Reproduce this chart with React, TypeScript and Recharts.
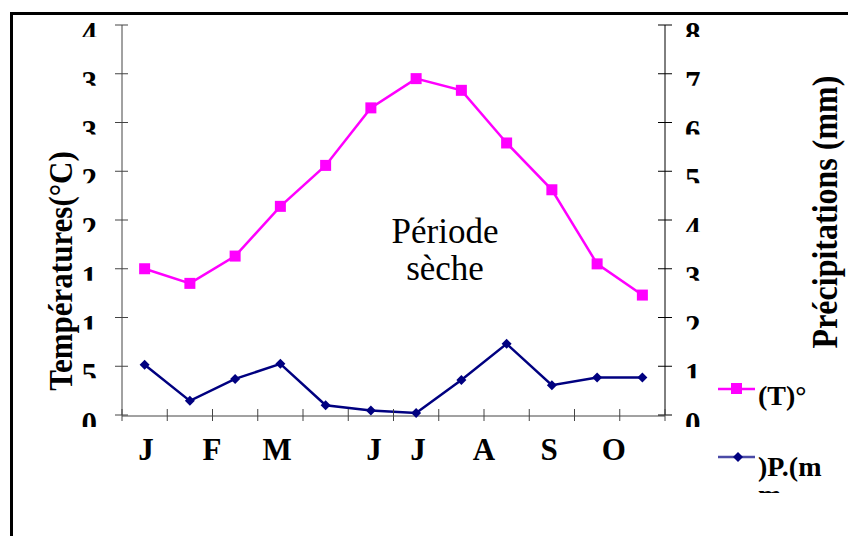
import { LineChart, Line, XAxis, YAxis } from "recharts";

const MONTHS = ["J", "F", "M", "A", "M", "J", "J", "A", "S", "O", "N", "D"];
const TEMP = [15.0, 13.5, 16.3, 21.4, 25.6, 31.5, 34.5, 33.3, 27.9, 23.1, 15.5, 12.3];
const PRECIP = [10.3, 2.9, 7.4, 10.5, 2.0, 0.9, 0.4, 7.2, 14.6, 6.1, 7.7, 7.7];

// month labels under the axis, as drawn in the source (position in month units)
const LABELS = ["J", "F", "M", "J", "J", "A", "S", "O"];
const LABEL_POS = [0.53, 1.99, 3.43, 5.57, 6.54, 8.0, 9.44, 10.87];

const T_TICKS = [0, 5, 10, 15, 20, 25, 30, 35, 40];
const T_TICK_LABELS = ["0", "5", "1", "1", "2", "2", "3", "3", "4"];
const P_TICKS = [0, 10, 20, 30, 40, 50, 60, 70, 80];
const P_TICK_LABELS = ["0", "1", "2", "3", "4", "5", "6", "7", "8"];

const SERIES = [
  { key: "temp", name: "(T)°", color: "#FF00FF", legendLine: "#FF00FF" },
  { key: "precip", name: ")P.(m", color: "#000080", legendLine: "#4a4aa6" },
];

const FONT = "'Liberation Serif', 'Times New Roman', serif";
const AXIS = "#444";

const W = 848;
const H = 536;
const LEFT_W = 122;
const RIGHT_W = 183;
const PLOT_TOP = 25;
const PLOT_BOTTOM = 415;
const BAND = (W - LEFT_W - RIGHT_W) / MONTHS.length;
// tick marks sit between the months (0..12 in month units)
const BOUNDARIES = [...MONTHS.map((_, i) => i), MONTHS.length];

function LeftTick({ x, y, index }: any) {
  return (
    <g>
      <line x1={x - 7} x2={x + 6} y1={y} y2={y} stroke={AXIS} />
      <svg x={x - 45} y={y - 6} width={40} height={18} overflow="hidden">
        <text x={20} y={25} textAnchor="end" fontFamily={FONT} fontWeight="bold" fontSize={31} fill="#000">
          {T_TICK_LABELS[index]}
        </text>
      </svg>
    </g>
  );
}

function RightTick({ x, y, index }: any) {
  return (
    <g>
      <line x1={x - 7} x2={x + 7} y1={y} y2={y} stroke="#000" />
      <svg x={x + 15} y={y - 6} width={40} height={18} overflow="hidden">
        <text x={5} y={25} textAnchor="start" fontFamily={FONT} fontWeight="bold" fontSize={31} fill="#000">
          {P_TICK_LABELS[index]}
        </text>
      </svg>
    </g>
  );
}

function LabelTick({ x, y, index }: any) {
  return (
    <text x={x} y={Number(y) + 45} textAnchor="middle" fontFamily={FONT} fontWeight="bold" fontSize={31} fill="#000">
      {LABELS[index]}
    </text>
  );
}

const SquareDot = ({ cx, cy, index }: any) => (
  <rect key={`s${index}`} x={cx - 5.5} y={cy - 5.5} width={11} height={11} fill="#FF00FF" />
);

const DiamondDot = ({ cx, cy, index }: any) => (
  <path key={`d${index}`} d={`M${cx},${cy - 5}L${cx + 5},${cy}L${cx},${cy + 5}L${cx - 5},${cy}Z`} fill="#000080" />
);

export default function App() {
  // pos = centre of each month band, in month units
  const data = MONTHS.map((m, i) => ({ idx: i, month: m, temp: TEMP[i], precip: PRECIP[i], pos: i + 0.5 }));

  return (
    <div style={{ position: "absolute", left: 0, top: 0, width: W, height: H, background: "#fff", overflow: "hidden" }}>
      <div
        style={{
          position: "absolute",
          left: 10,
          top: 12,
          width: 900,
          height: 600,
          borderTop: "3px solid #000",
          borderLeft: "3px solid #000",
        }}
      />
      <div style={{ position: "absolute", left: 0, top: 0 }}>
        <LineChart width={W} height={H} data={data} margin={{ top: PLOT_TOP, right: 0, bottom: H - PLOT_BOTTOM - 2, left: 0 }}>
          <XAxis
            xAxisId="m"
            dataKey="idx"
            type="category"
            scale="band"
            height={1}
            tick={false}
            tickLine={false}
            axisLine={{ stroke: AXIS }}
          />
          <XAxis
            xAxisId="lbl"
            dataKey="pos"
            type="number"
            domain={[0, 12]}
            allowDataOverflow
            ticks={LABEL_POS}
            height={1}
            interval={0}
            tickSize={0}
            tickMargin={0}
            tickLine={false}
            axisLine={false}
            tick={<LabelTick />}
          />
          <YAxis
            yAxisId="t"
            orientation="left"
            domain={[0, 40]}
            ticks={T_TICKS}
            width={LEFT_W}
            interval={0}
            tickSize={0}
            tickMargin={0}
            tickLine={false}
            axisLine={{ stroke: AXIS }}
            tick={<LeftTick />}
          />
          <YAxis
            yAxisId="p"
            orientation="right"
            domain={[0, 80]}
            ticks={P_TICKS}
            width={RIGHT_W}
            interval={0}
            tickSize={0}
            tickMargin={0}
            tickLine={false}
            axisLine={{ stroke: "#000" }}
            tick={<RightTick />}
          />
          <Line
            xAxisId="m"
            yAxisId="t"
            type="linear"
            dataKey="temp"
            stroke="#FF00FF"
            strokeWidth={2.5}
            dot={SquareDot}
            activeDot={false}
            isAnimationActive={false}
          />
          <Line
            xAxisId="m"
            yAxisId="p"
            type="linear"
            dataKey="precip"
            stroke="#000080"
            strokeWidth={2.5}
            dot={DiamondDot}
            activeDot={false}
            isAnimationActive={false}
          />
        </LineChart>
      </div>
      <svg width={W} height={H} style={{ position: "absolute", left: 0, top: 0, pointerEvents: "none" }}>
        {/* cross tick marks between the months on the x axis */}
        {BOUNDARIES.map((b) => (
          <line
            key={`b${b}`}
            x1={LEFT_W + b * BAND}
            x2={LEFT_W + b * BAND}
            y1={PLOT_BOTTOM - 6}
            y2={PLOT_BOTTOM + 6}
            stroke={AXIS}
            strokeWidth={1}
          />
        ))}
        <text
          transform="translate(72,271) scale(1.1,1) rotate(-90)"
          textAnchor="middle"
          fontFamily={FONT}
          fontWeight="bold"
          fontSize={31}
          fill="#000"
        >
          Températures(°C)
        </text>
        <text
          transform="translate(837,212) scale(1.12,1) rotate(-90)"
          textAnchor="middle"
          fontFamily={FONT}
          fontWeight="bold"
          fontSize={32}
          fill="#000"
        >
          Précipitations (mm)
        </text>
        <text x={445} y={243} textAnchor="middle" fontFamily={FONT} fontSize={35} fill="#000">
          Période
        </text>
        <text x={445} y={280} textAnchor="middle" fontFamily={FONT} fontSize={35} fill="#000">
          sèche
        </text>
        {/* legend */}
        <line x1={718} x2={755} y1={389} y2={389} stroke={SERIES[0].legendLine} strokeWidth={2.5} />
        <rect x={731} y={383} width={11} height={11} fill={SERIES[0].color} />
        <text x={758} y={405} fontFamily={FONT} fontWeight="bold" fontSize={28} fill="#000">
          {SERIES[0].name}
        </text>
        <line x1={718} x2={755} y1={457} y2={457} stroke={SERIES[1].legendLine} strokeWidth={2.5} />
        <path d="M738,452L743,457L738,462L733,457Z" fill={SERIES[1].color} />
        <text x={758} y={476} fontFamily={FONT} fontWeight="bold" fontSize={28} fill="#000">
          {SERIES[1].name}
        </text>
        <svg x={755} y={490} width={40} height={3} overflow="hidden">
          <text x={3} y={14} fontFamily={FONT} fontWeight="bold" fontSize={28} fill="#000">
            m
          </text>
        </svg>
      </svg>
    </div>
  );
}
